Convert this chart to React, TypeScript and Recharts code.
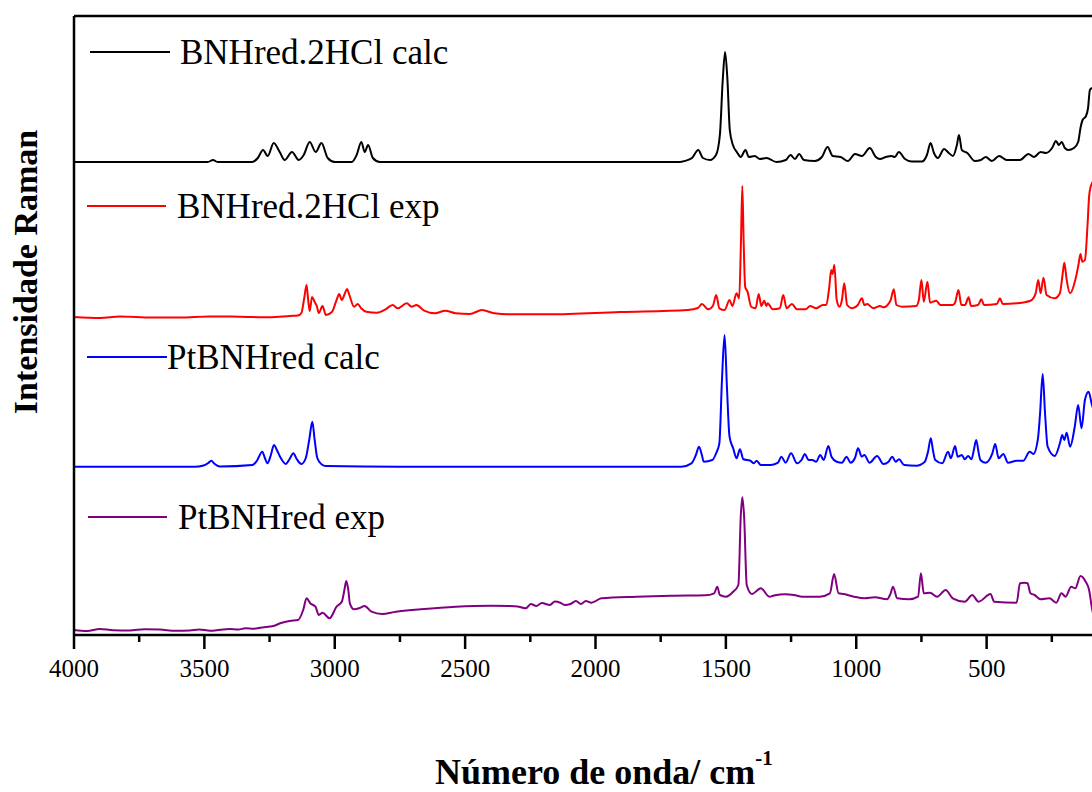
import React from "react";
import { LineChart, Line, XAxis, YAxis, ReferenceLine } from "recharts";

// Raman spectra: [wavenumber (cm-1), intensity (a.u., stacked with offsets)]
const bnhCalc: [number, number][] = [
  [4000,4730],[3518,4730],[3487,4730],[3467,4750],[3449,4730],[3318,4730],[3295,4770],[3275,4850],[3257,4790],[3234,4920],[3211,4830],[3192,4750],[3164,4830],[3138,4750],[3119,4800],[3096,4930],[3073,4830],[3051,4920],[3027,4770],[3000,4730],[2935,4730],[2916,4800],[2898,4930],[2885,4830],[2872,4900],[2854,4770],[2827,4730],[1677,4730],[1658,4740],[1630,4770],[1606,4850],[1588,4770],[1561,4750],[1538,4800],[1523,5000],[1512,5550],[1503,5830],[1494,5550],[1485,5050],[1473,4900],[1458,4830],[1443,4780],[1425,4850],[1412,4780],[1389,4790],[1370,4760],[1344,4770],[1306,4730],[1270,4750],[1252,4800],[1235,4760],[1219,4810],[1201,4750],[1159,4740],[1132,4780],[1110,4880],[1090,4790],[1060,4780],[1032,4740],[1005,4810],[978,4790],[948,4870],[925,4780],[909,4760],[886,4780],[865,4790],[852,4780],[837,4830],[813,4760],[787,4735],[748,4735],[729,4800],[715,4920],[702,4820],[687,4770],[663,4860],[645,4820],[629,4790],[614,4900],[606,5000],[595,4850],[574,4820],[545,4740],[522,4750],[503,4780],[480,4740],[452,4790],[423,4750],[372,4750],[340,4810],[318,4780],[293,4830],[272,4820],[249,4870],[234,4940],[223,4900],[212,4930],[200,4870],[187,4850],[165,4870],[149,4930],[140,5070],[132,5150],[119,5190],[111,5270],[104,5450],[96,5470],[70,5490]
];

const bnhExp: [number, number][] = [
  [4000,3180],[3900,3170],[3825,3185],[3700,3175],[3594,3175],[3480,3185],[3364,3183],[3250,3178],[3172,3190],[3141,3195],[3128,3220],[3117,3370],[3108,3500],[3102,3350],[3096,3240],[3087,3380],[3077,3330],[3069,3290],[3061,3220],[3047,3290],[3034,3200],[3011,3230],[2993,3350],[2983,3410],[2973,3350],[2962,3410],[2953,3460],[2944,3400],[2926,3283],[2912,3310],[2899,3267],[2879,3233],[2839,3223],[2805,3257],[2778,3300],[2758,3267],[2724,3317],[2705,3283],[2687,3300],[2657,3243],[2616,3217],[2576,3243],[2536,3217],[2482,3210],[2435,3250],[2388,3217],[2334,3207],[2175,3207],[1907,3230],[1646,3250],[1607,3270],[1592,3310],[1568,3257],[1550,3290],[1537,3400],[1525,3267],[1505,3250],[1486,3350],[1475,3290],[1459,3417],[1449,3367],[1442,3950],[1437,4490],[1432,3950],[1426,3483],[1417,3433],[1403,3283],[1386,3267],[1374,3410],[1364,3290],[1353,3343],[1345,3290],[1340,3317],[1320,3257],[1293,3267],[1280,3400],[1267,3267],[1247,3310],[1227,3257],[1194,3257],[1177,3290],[1154,3267],[1128,3300],[1115,3300],[1104,3467],[1096,3650],[1091,3610],[1084,3700],[1075,3350],[1064,3283],[1055,3350],[1046,3517],[1035,3300],[1015,3267],[994,3300],[978,3367],[969,3300],[958,3310],[935,3267],[909,3290],[896,3277],[869,3343],[856,3457],[846,3300],[823,3283],[770,3290],[760,3350],[750,3550],[741,3333],[727,3533],[717,3323],[693,3343],[677,3300],[630,3300],[621,3323],[608,3450],[597,3300],[583,3300],[569,3377],[560,3290],[533,3300],[520,3357],[510,3300],[461,3310],[449,3367],[438,3310],[385,3317],[332,3343],[312,3417],[302,3550],[293,3417],[282,3573],[270,3400],[239,3367],[219,3417],[209,3600],[202,3723],[193,3550],[180,3417],[160,3550],[148,3700],[140,3810],[133,3733],[123,3750],[113,4100],[107,4383],[99,4500],[85,4550]
];

const ptCalc: [number, number][] = [
  [4000,1683],[3538,1683],[3503,1695],[3485,1720],[3474,1743],[3460,1710],[3441,1685],[3316,1700],[3299,1740],[3278,1833],[3268,1770],[3258,1717],[3245,1800],[3233,1900],[3222,1850],[3207,1770],[3188,1710],[3173,1760],[3159,1817],[3146,1760],[3128,1710],[3111,1770],[3098,1950],[3086,2133],[3077,1950],[3067,1770],[3050,1705],[3034,1690],[2751,1683],[1671,1683],[1632,1717],[1615,1800],[1603,1883],[1592,1800],[1585,1733],[1552,1750],[1537,1820],[1525,1917],[1515,2550],[1505,3000],[1496,2483],[1486,1983],[1472,1867],[1459,1767],[1446,1857],[1433,1757],[1406,1743],[1393,1717],[1382,1743],[1366,1700],[1327,1700],[1300,1723],[1287,1783],[1271,1723],[1250,1817],[1227,1717],[1210,1750],[1197,1810],[1183,1750],[1168,1750],[1154,1733],[1138,1800],[1125,1750],[1107,1890],[1095,1783],[1075,1733],[1055,1723],[1037,1783],[1022,1723],[1005,1770],[993,1867],[979,1783],[969,1800],[949,1723],[920,1790],[896,1710],[876,1733],[862,1783],[849,1733],[836,1757],[816,1700],[770,1693],[737,1733],[725,1830],[714,1967],[706,1850],[697,1750],[670,1717],[648,1833],[637,1767],[621,1890],[611,1783],[595,1800],[584,1757],[571,1790],[558,1757],[549,1850],[540,1950],[531,1830],[524,1750],[505,1723],[478,1817],[467,1910],[454,1767],[436,1810],[418,1723],[385,1743],[359,1743],[335,1833],[321,1810],[303,1967],[295,2217],[285,2610],[276,2217],[266,1883],[239,1790],[219,1917],[210,2000],[202,1950],[193,2023],[180,1883],[162,2083],[149,2300],[136,2067],[123,2350],[109,2433],[96,2300],[82,2200]
];

const ptExp: [number, number][] = [
  [4000,50],[3950,40],[3901,60],[3850,48],[3786,45],[3730,58],[3671,55],[3610,42],[3556,45],[3520,55],[3478,43],[3440,52],[3403,60],[3370,55],[3343,67],[3310,62],[3280,75],[3235,90],[3209,117],[3173,140],[3141,150],[3121,250],[3108,367],[3094,317],[3074,283],[3061,200],[3047,223],[3020,167],[2993,283],[2973,333],[2963,450],[2956,540],[2948,450],[2942,317],[2926,257],[2904,270],[2886,290],[2859,233],[2819,210],[2765,233],[2670,257],[2536,283],[2402,293],[2329,290],[2294,283],[2267,267],[2248,310],[2227,290],[2206,320],[2175,300],[2156,335],[2135,323],[2118,300],[2096,310],[2075,340],[2056,310],[2037,340],[2016,323],[1977,367],[1844,383],[1711,393],[1579,397],[1545,417],[1533,483],[1523,400],[1499,383],[1472,433],[1452,500],[1443,1183],[1437,1377],[1430,1183],[1420,500],[1400,410],[1366,467],[1333,383],[1307,400],[1274,407],[1239,400],[1207,383],[1141,383],[1101,417],[1085,610],[1068,417],[1048,410],[1008,383],[968,367],[929,377],[882,357],[869,410],[859,483],[843,367],[796,357],[763,383],[752,617],[741,417],[717,423],[690,383],[657,450],[630,367],[584,333],[555,400],[531,333],[485,410],[471,333],[385,323],[372,517],[356,523],[343,517],[332,417],[316,400],[293,357],[259,367],[233,323],[213,417],[197,383],[176,483],[160,467],[140,590],[120,533],[107,450],[96,267],[82,100]
];

const seriesNames = ["BNHred.2HCl calc", "BNHred.2HCl exp", "PtBNHred calc", "PtBNHred exp"];
const seriesColors = ["#000000", "#ff0000", "#0000ff", "#800080"];
const seriesData = [bnhCalc, bnhExp, ptCalc, ptExp];

const xTicks = [4000, 3750, 3500, 3250, 3000, 2750, 2500, 2250, 2000, 1750, 1500, 1250, 1000, 750, 500, 250];
const xDomain: [number, number] = [0, 4000];
const yDomain: [number, number] = [0, 6190];

const xTitle = "Número de onda/ cm";
const xTitleSup = "-1";
const yTitle = "Intensidade Raman";

// legend placement (layout only)
const legendPos = [
  { x1: 82, x2: 162, y: 44, tx: 172, ty: 56 },
  { x1: 79, x2: 158, y: 198, tx: 169, ty: 210 },
  { x1: 79, x2: 159, y: 349, tx: 159, ty: 361 },
  { x1: 80, x2: 159, y: 509, tx: 170, ty: 521 },
];

const FONT = "'Liberation Serif', 'Times New Roman', serif";

const AxisTick = (props: any) => {
  const { x, y, payload } = props;
  const major = payload.value % 500 === 0;
  return (
    <g>
      <line x1={x} x2={x} y1={y} y2={y + (major ? 14 : 7)} stroke="#000" strokeWidth={2.5} />
      {major && (
        <text x={x} y={y + 42} textAnchor="middle" fontFamily={FONT} fontSize={25} fill="#000">
          {payload.value}
        </text>
      )}
    </g>
  );
};

export default function App() {
  const datasets = seriesData.map((arr) => arr.map(([w, v]) => ({ w, v })));
  return (
    <div
      style={{
        position: "fixed",
        left: 8,
        top: 8,
        width: 1130,
        height: 784,
        background: "#fff",
      }}
    >
      <LineChart width={1130} height={784} margin={{ top: 8, right: 21, bottom: 97, left: 65 }}>
        <XAxis
          type="number"
          dataKey="w"
          domain={xDomain}
          reversed
          allowDataOverflow
          ticks={xTicks}
          interval={0}
          tickSize={0}
          tickMargin={0}
          tickLine={false}
          tick={<AxisTick />}
          axisLine={{ stroke: "#000", strokeWidth: 2.5 }}
          height={60}
        />
        <YAxis
          type="number"
          domain={yDomain}
          allowDataOverflow
          tick={false}
          tickLine={false}
          axisLine={{ stroke: "#000", strokeWidth: 2.5 }}
          width={1}
        />
        <ReferenceLine y={yDomain[1]} stroke="#000" strokeWidth={2.5} ifOverflow="extendDomain" />
        {datasets.map((d, i) => (
          <Line
            key={seriesNames[i]}
            data={d}
            dataKey="v"
            name={seriesNames[i]}
            type="monotone"
            stroke={seriesColors[i]}
            strokeWidth={2}
            dot={false}
            activeDot={false}
            isAnimationActive={false}
          />
        ))}
      </LineChart>
      <svg
        width={1130}
        height={784}
        style={{ position: "absolute", left: 0, top: 0, pointerEvents: "none" }}
      >
        {seriesNames.map((n, i) => (
          <g key={n}>
            <line
              x1={legendPos[i].x1}
              x2={legendPos[i].x2}
              y1={legendPos[i].y}
              y2={legendPos[i].y}
              stroke={seriesColors[i]}
              strokeWidth={1.8}
            />
            <text x={legendPos[i].tx} y={legendPos[i].ty} fontFamily={FONT} fontSize={35} fill="#000">
              {n}
            </text>
          </g>
        ))}
        <text
          transform="translate(29,264) rotate(-90)"
          textAnchor="middle"
          fontFamily={FONT}
          fontWeight="bold"
          fontSize={34}
          fill="#000"
        >
          {yTitle}
        </text>
        <text x={427} y={776} fontFamily={FONT} fontWeight="bold" fontSize={36} fill="#000">
          {xTitle}
          <tspan fontSize={21} dy={-19}>{xTitleSup}</tspan>
        </text>
      </svg>
    </div>
  );
}
